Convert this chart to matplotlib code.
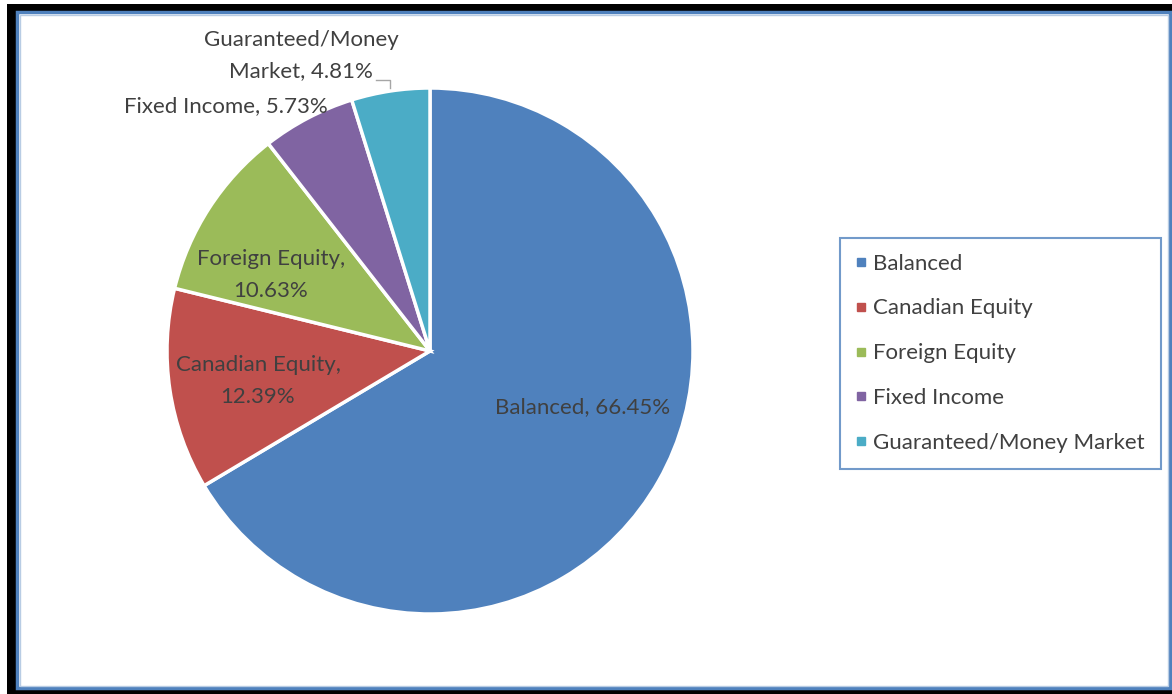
import matplotlib.pyplot as plt
from matplotlib.patches import Rectangle
from matplotlib.lines import Line2D

# Asset mix by category
categories = ['Balanced', 'Canadian Equity', 'Foreign Equity', 'Fixed Income',
              'Guaranteed/Money Market']
shares = [66.45, 12.39, 10.63, 5.73, 4.81]
label_text = ['Balanced, 66.45%', 'Canadian Equity,\n12.39%', 'Foreign Equity,\n10.63%',
              'Fixed Income, 5.73%', 'Guaranteed/Money\nMarket, 4.81%']
colors = ['#4F81BD', '#C0504D', '#9BBB59', '#8064A2', '#4BACC6']

# label positions in pie units (radius = 1)
label_pos = [(0.58, -0.213), (-0.654, -0.114), (-0.605, 0.289), (-0.39, 0.932), (-0.49, 1.122)]
label_ha = ['center', 'center', 'center', 'right', 'center']

plt.rcParams['font.family'] = ['Lato', 'DejaVu Sans']
W, H = 1172, 694
fig = plt.figure(figsize=(W / 100, H / 100), dpi=100)


def px(x, y):
    return x / W, 1 - y / H


# page border (black) and chart area (blue frame)
fig.add_artist(Rectangle(px(7, 700), 1.1, (700 - 4) / H, transform=fig.transFigure,
                         facecolor='black', edgecolor='none', zorder=-3))
fig.add_artist(Rectangle(px(17, 688), (1170 - 17) / W, (688 - 12) / H, transform=fig.transFigure,
                         facecolor='white', edgecolor='#4F81BD', linewidth=2.5, zorder=-2))
fig.add_artist(Rectangle(px(19.5, 685.5), (1167.5 - 19.5) / W, (685.5 - 14.5) / H,
                         transform=fig.transFigure, facecolor='none', edgecolor='#B8CCE4',
                         linewidth=1, zorder=-1))

# pie axes: center (430, 351), radius 263 px
r = 263
cx, cy = 430, 351
x0, y0 = px(cx - r, cy + r)
ax = fig.add_axes([x0, y0, 2 * r / W, 2 * r / H])
ax.pie(shares, colors=colors, startangle=90, counterclock=False, radius=1,
       wedgeprops=dict(edgecolor='white', linewidth=2.5))
ax.set_xlim(-1, 1)
ax.set_ylim(-1, 1)
ax.set_aspect('equal')
ax.axis('off')

for txt, (lx, ly), ha in zip(label_text, label_pos, label_ha):
    ax.text(lx, ly, txt, ha=ha, va='center', fontsize=16, color='#404040',
            linespacing=1.7, clip_on=False)

# leader line for the small slice
ax.plot([-0.205, -0.152, -0.152], [1.03, 1.03, 1.0], color='#A6A6A6', lw=1, clip_on=False)

handles = [Line2D([], [], marker='s', linestyle='none', markersize=6, color=c) for c in colors]
leg = fig.legend(handles, categories, loc='upper left', bbox_to_anchor=px(840, 238),
                 bbox_transform=fig.transFigure, frameon=True, fancybox=False,
                 fontsize=16, handlelength=0.5, handletextpad=0.3,
                 labelspacing=1.12, borderpad=0.7, borderaxespad=0)
leg.get_frame().set_edgecolor('#4F81BD')
leg.get_frame().set_linewidth(1.5)
for t in leg.get_texts():
    t.set_color('#404040')

fig.savefig('out.png', dpi=100)
